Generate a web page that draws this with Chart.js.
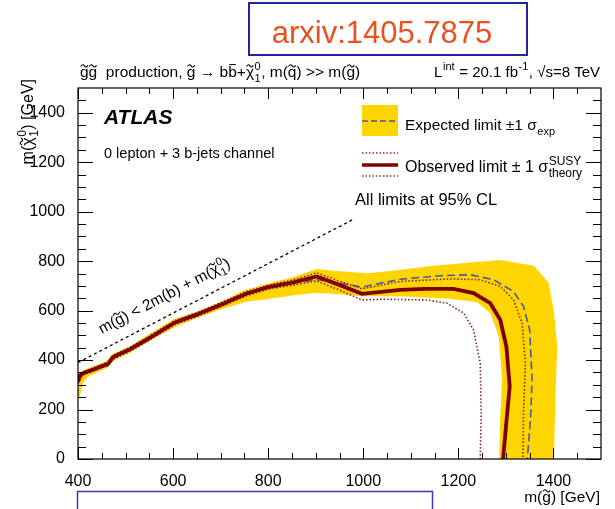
<!DOCTYPE html>
<html><head><meta charset="utf-8">
<script src="https://cdn.jsdelivr.net/npm/chart.js@4"></script>
<style>html,body{margin:0;padding:0;background:#fff;} #wrap{position:relative;width:615px;height:509px;}</style>
</head><body><div id="wrap"><canvas id="c"></canvas></div>
<script>
// ---- data (GeV) ----
const xTickLabels = [400, 600, 800, 1000, 1200, 1400];
const yTickLabels = [0, 200, 400, 600, 800, 1000, 1200, 1400];

const obsX = [400, 404, 410, 463, 474, 509, 551, 604, 649, 698, 754, 800, 853, 902, 951, 997, 1078, 1130, 1190, 1232, 1267, 1288, 1301, 1308, 1302, 1294];
const obsY = [312, 338, 346, 384, 412, 443, 490, 552, 583, 622, 668, 695, 714, 738, 703, 668, 684, 688, 688, 671, 630, 563, 455, 293, 171, 0];

const expX = [400, 410, 463, 474, 509, 551, 604, 649, 698, 754, 800, 853, 902, 952, 997, 1078, 1162, 1225, 1274, 1316, 1337, 1350, 1355, 1352, 1345];
const expY = [316, 345, 386, 414, 445, 492, 553, 585, 623, 670, 697, 712, 725, 711, 695, 727, 741, 745, 725, 677, 617, 522, 320, 171, 0];

const thUpX = [400, 410, 463, 474, 509, 551, 604, 649, 698, 754, 800, 853, 902, 951, 997, 1078, 1183, 1246, 1288, 1316, 1334, 1341, 1337, 1336];
const thUpY = [322, 352, 392, 420, 451, 498, 560, 591, 630, 677, 703, 724, 753, 718, 688, 718, 728, 725, 698, 644, 549, 387, 185, 0];

const thDnX = [400, 410, 463, 474, 509, 551, 604, 649, 698, 754, 800, 853, 902, 951, 997, 1043, 1134, 1176, 1211, 1232, 1246, 1248, 1246];
const thDnY = [304, 340, 377, 404, 435, 482, 544, 575, 614, 660, 687, 703, 720, 682, 643, 646, 643, 630, 590, 522, 387, 185, 0];

// closed outline of the expected +-1 sigma band
const bandX = [400, 410, 460, 472, 510, 550, 600, 650, 700, 750, 804, 850, 902, 937, 1008, 1057, 1148, 1288, 1359, 1390, 1401, 1408, 1404, 1401,
               1286, 1288, 1292, 1285, 1267, 1239, 1183, 1078, 997, 951, 902, 853, 804, 754, 699, 650, 604, 551, 509, 474, 463, 420, 410, 405, 400];
const bandY = [332, 357, 397, 424, 457, 505, 564, 595, 635, 682, 712, 734, 768, 761, 751, 760, 781, 805, 781, 713, 592, 455, 252, 0,
               0, 171, 320, 495, 590, 635, 648, 658, 658, 666, 672, 662, 648, 636, 604, 570, 534, 478, 430, 396, 370, 333, 305, 265, 235];

const diagX = [400, 980];
const diagY = [390, 970];

// ---- helpers ----
const FAM = "'Liberation Sans', Arial, Helvetica, sans-serif";
const pts = (xs, ys) => xs.map((x, i) => ({x: x, y: ys[i]}));

function drawTilde(ctx, cx, cy, w, size) {
  const a = size * 0.06;
  ctx.save();
  ctx.lineWidth = Math.max(0.9, size * 0.07);
  ctx.beginPath();
  ctx.moveTo(cx - w / 2, cy + a * 0.5);
  ctx.bezierCurveTo(cx - w / 4, cy - a * 2, cx - w / 8, cy - a * 1.5, cx, cy);
  ctx.bezierCurveTo(cx + w / 8, cy + a * 1.5, cx + w / 4, cy + a * 2, cx + w / 2, cy - a * 0.5);
  ctx.stroke();
  ctx.restore();
}

function drawRich(ctx, segs, x, y, size, align, style) {
  style = style || '';
  const base = style + ' ' + size + 'px ' + FAM;
  const ss = Math.round(size * 0.72);
  const small = style + ' ' + ss + 'px ' + FAM;
  const items = segs.map(s => {
    if (typeof s === 'string') s = {t: s};
    let w;
    if (s.sub !== undefined || s.sup !== undefined) {
      ctx.font = small;
      w = Math.max(ctx.measureText(s.sub || '').width, ctx.measureText(s.sup || '').width) + 1;
    } else {
      ctx.font = base;
      w = ctx.measureText(s.t).width;
    }
    return Object.assign({}, s, {w: w});
  });
  const total = items.reduce((a, b) => a + b.w, 0);
  let cx = align === 'right' ? x - total : (align === 'center' ? x - total / 2 : x);
  ctx.textAlign = 'left';
  ctx.textBaseline = 'alphabetic';
  ctx.strokeStyle = ctx.fillStyle;
  for (const it of items) {
    if (it.sub !== undefined || it.sup !== undefined) {
      ctx.font = small;
      if (it.sub) ctx.fillText(it.sub, cx + 0.5, y + size * 0.3);
      if (it.sup) ctx.fillText(it.sup, cx + 0.5, y - size * 0.45);
    } else {
      ctx.font = base;
      ctx.fillText(it.t, cx, y);
      if (it.tilde) drawTilde(ctx, cx + it.w / 2, y - size * 0.72, it.w * 0.85, size);
      if (it.bar) {
        ctx.save(); ctx.lineWidth = 1; ctx.beginPath();
        ctx.moveTo(cx + 1, y - size * 0.8); ctx.lineTo(cx + it.w - 1, y - size * 0.8); ctx.stroke(); ctx.restore();
      }
    }
    cx += it.w;
  }
  return total;
}

const g = {t: 'g', tilde: true};
const chi = {t: '\u03C7', tilde: true};

const framePlugin = {
  id: 'frame',
  afterDraw(chart) {
    const ctx = chart.ctx;
    const a = chart.chartArea;
    const xs = chart.scales.x, ys = chart.scales.y;
    ctx.save();
    ctx.strokeStyle = '#000';
    ctx.fillStyle = '#000';
    ctx.lineWidth = 1.2;
    ctx.strokeRect(a.left, a.top, a.right - a.left, a.bottom - a.top);
    ctx.lineWidth = 1;
    // x ticks (inward, bottom and top)
    for (let v = 400; v < 1500; v += 50) {
      const p = Math.round(xs.getPixelForValue(v)) + 0.5;
      const L = (v % 200 === 0) ? 11 : 6;
      ctx.beginPath();
      ctx.moveTo(p, a.bottom); ctx.lineTo(p, a.bottom - L);
      ctx.moveTo(p, a.top); ctx.lineTo(p, a.top + L);
      ctx.stroke();
    }
    // y ticks (inward, left and right)
    for (let v = 0; v < 1500; v += 50) {
      const p = Math.round(ys.getPixelForValue(v)) + 0.5;
      const L = (v % 200 === 0) ? 15 : 8;
      ctx.beginPath();
      ctx.moveTo(a.left, p); ctx.lineTo(a.left + L, p);
      ctx.moveTo(a.right, p); ctx.lineTo(a.right - L, p);
      ctx.stroke();
    }

    // header texts
    ctx.fillStyle = '#000';
    drawRich(ctx, [g, g, '  production, ', g, ' \u2192 b', {t: 'b', bar: true}, '+', chi, {sub: '1', sup: '0'}, ', m(', {t: 'q', tilde: true}, ') >> m(', g, ')'], 80, 77, 15.5, 'left');
    drawRich(ctx, ['L', {sup: 'int'}, ' = 20.1 fb', {sup: '-1'}, ', \u221As=8 TeV'], 600, 77, 15, 'right');

    // axis titles
    ctx.save();
    ctx.translate(33, 79);
    ctx.rotate(-Math.PI / 2);
    drawRich(ctx, ['m(', chi, {sub: '1', sup: '0'}, ') [GeV]'], 0, 0, 16, 'right');
    ctx.restore();
    drawRich(ctx, ['m(', g, ') [GeV]'], 600, 502, 15.5, 'right');

    // ATLAS label
    ctx.font = 'italic bold 21px ' + FAM;
    ctx.textAlign = 'left';
    ctx.fillText('ATLAS', 104, 124);
    drawRich(ctx, ['0 lepton + 3 b-jets channel'], 104, 158, 14.5, 'left');

    // legend
    ctx.fillStyle = '#FFD500';
    ctx.fillRect(362, 105, 36, 31);
    ctx.strokeStyle = '#4a5aa8'; ctx.lineWidth = 1.6; ctx.setLineDash([6, 3]);
    ctx.beginPath(); ctx.moveTo(362, 121); ctx.lineTo(398, 121); ctx.stroke();
    ctx.strokeStyle = '#a02a2a'; ctx.lineWidth = 1.4; ctx.setLineDash([1.5, 2]);
    ctx.beginPath(); ctx.moveTo(362, 153); ctx.lineTo(398, 153); ctx.moveTo(362, 176); ctx.lineTo(398, 176); ctx.stroke();
    ctx.setLineDash([]);
    ctx.strokeStyle = '#7f0000'; ctx.lineWidth = 3.6;
    ctx.beginPath(); ctx.moveTo(362, 165); ctx.lineTo(398, 165); ctx.stroke();
    ctx.fillStyle = '#000';
    drawRich(ctx, ['Expected limit \u00B11 \u03C3', {sub: 'exp'}], 405, 130, 15.5, 'left');
    drawRich(ctx, ['Observed limit \u00B1 1 \u03C3', {sub: 'theory', sup: 'SUSY'}], 405, 172, 16, 'left');
    drawRich(ctx, ['All limits at 95% CL'], 355, 205, 16.5, 'left');

    // kinematic boundary label along the dashed line
    const x0 = xs.getPixelForValue(diagX[0]), y0 = ys.getPixelForValue(diagY[0]);
    const x1 = xs.getPixelForValue(diagX[1]), y1 = ys.getPixelForValue(diagY[1]);
    const ang = Math.atan2(y1 - y0, x1 - x0);
    ctx.save();
    ctx.translate(xs.getPixelForValue(450), ys.getPixelForValue(505));
    ctx.rotate(ang);
    drawRich(ctx, ['m(', g, ') < 2m(b) + m(', chi, {sub: '1', sup: '0'}, ')'], 0, 0, 15.5, 'left');
    ctx.restore();

    // arxiv box
    ctx.strokeStyle = '#23239a'; ctx.lineWidth = 2;
    ctx.strokeRect(249, 3, 278, 52);
    ctx.fillStyle = '#e8521e';
    ctx.font = '31px ' + FAM;
    ctx.textAlign = 'center';
    ctx.fillText('arxiv:1405.7875', 382, 43);

    // bottom box
    ctx.strokeStyle = '#3b3bb0'; ctx.lineWidth = 1.5;
    ctx.beginPath();
    ctx.moveTo(77.5, 510); ctx.lineTo(77.5, 491.5); ctx.lineTo(432.5, 491.5); ctx.lineTo(432.5, 510);
    ctx.stroke();
    ctx.restore();
  }
};

const tickFont = {family: FAM, size: 16};

new Chart(document.getElementById('c'), {
  type: 'line',
  data: {
    datasets: [
      {label: 'Observed', data: pts(obsX, obsY), borderColor: '#7f0000', borderWidth: 3.8, pointRadius: 0, fill: false, order: 0},
      {label: 'Theory +1s', data: pts(thUpX, thUpY), borderColor: '#8e2020', borderWidth: 1.6, borderDash: [1.5, 2], pointRadius: 0, fill: false, order: 1},
      {label: 'Theory -1s', data: pts(thDnX, thDnY), borderColor: '#8e2020', borderWidth: 1.6, borderDash: [1.5, 2], pointRadius: 0, fill: false, order: 1},
      {label: 'Expected', data: pts(expX, expY), borderColor: '#4a5aa8', borderWidth: 1.6, borderDash: [8, 4], pointRadius: 0, fill: false, order: 2},
      {label: 'Diag', data: pts(diagX, diagY), borderColor: '#000', borderWidth: 1.3, borderDash: [3, 3], pointRadius: 0, fill: false, order: 3},
      {label: 'Band', data: pts(bandX, bandY), borderColor: 'rgba(0,0,0,0)', borderWidth: 0, backgroundColor: '#FFD500', pointRadius: 0, fill: 'shape', order: 5}
    ]
  },
  options: {
    animation: false,
    responsive: true,
    maintainAspectRatio: false,
    events: [],
    layout: {padding: {left: 0, right: 14, top: 88, bottom: 0}},
    plugins: {legend: {display: false}, tooltip: {enabled: false}},
    scales: {
      x: {
        type: 'linear', position: 'bottom', min: 400, max: 1500,
        grid: {display: false}, border: {display: false},
        afterBuildTicks: s => { s.ticks = xTickLabels.map(v => ({value: v})); },
        afterFit: s => { s.height = 50; },
        ticks: {font: tickFont, color: '#000', padding: 5, maxRotation: 0, autoSkip: false, callback: v => String(v)}
      },
      y: {
        type: 'linear', position: 'left', min: 0, max: 1500,
        grid: {display: false}, border: {display: false},
        afterBuildTicks: s => { s.ticks = yTickLabels.map(v => ({value: v})); },
        afterFit: s => { s.width = 78; },
        ticks: {font: tickFont, color: '#000', padding: 5, autoSkip: false, callback: v => String(v)}
      }
    }
  },
  plugins: [framePlugin]
});
</script>
</body></html>
